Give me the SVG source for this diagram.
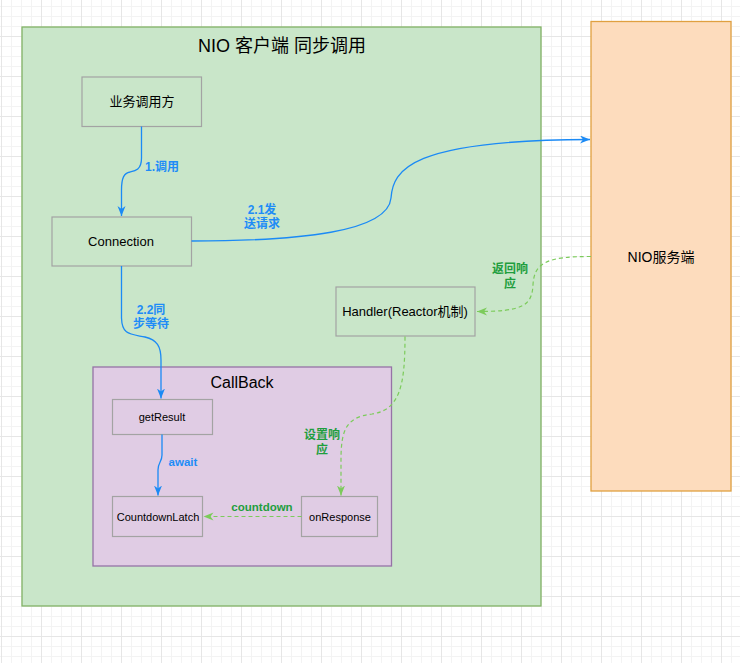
<svg xmlns="http://www.w3.org/2000/svg" width="740" height="663" viewBox="0 0 740 663">
<defs>
<pattern id="gMinor" x="1" y="6" width="10" height="10" patternUnits="userSpaceOnUse"><rect x="0" y="0" width="1" height="10" fill="#f3f3f3"/><rect x="0" y="0" width="10" height="1" fill="#f3f3f3"/></pattern>
<pattern id="gMajor" x="1" y="-4" width="40" height="40" patternUnits="userSpaceOnUse"><rect x="0" y="0" width="1" height="40" fill="#e6e6e6"/><rect x="0" y="0" width="40" height="1" fill="#e6e6e6"/></pattern>
<marker id="aBlue" markerUnits="userSpaceOnUse" markerWidth="12" markerHeight="10" refX="10" refY="4" orient="auto" viewBox="0 0 12 10"><path d="M0,0 L10,4 L0,8 L3,4 Z" fill="#1b8af5" stroke="none"/></marker>
<marker id="aGreen" markerUnits="userSpaceOnUse" markerWidth="12" markerHeight="10" refX="10" refY="4" orient="auto" viewBox="0 0 12 10"><path d="M0,0 L10,4 L0,8 L3,4 Z" fill="#7ccb5b" stroke="none"/></marker>
</defs>
<style>
text{font-family:"Liberation Sans","Noto Sans CJK SC",sans-serif;text-anchor:middle;fill:#000}
.node{fill:none;stroke:#a3a3a3;stroke-width:1.2}
.n13{font-size:13px}
.n11{font-size:11px}
.blue{fill:none;stroke:#1b8af5;stroke-width:1.3}
.green{fill:none;stroke:#7ccb5b;stroke-width:1.2;stroke-dasharray:4 3}
.lb{font-size:12px;fill:#1e8cf7;font-weight:bold}
.lg{font-size:12px;fill:#1f9e3e;font-weight:bold}
.sm{font-size:11.5px}
</style>
<rect x="0" y="0" width="740" height="663" fill="#ffffff"/>
<rect x="0" y="0" width="740" height="663" fill="url(#gMinor)"/>
<rect x="0" y="0" width="740" height="663" fill="url(#gMajor)"/>

<g id="client">
<rect x="22" y="27" width="519" height="579" fill="#c9e6c9" stroke="#82b366" stroke-width="1.3"/>
<text x="282" y="52" style="font-size:18px">NIO 客户端 同步调用</text>
</g>
<g id="server">
<rect x="591" y="21.5" width="140" height="469.5" fill="#fddcbd" stroke="#e0a040" stroke-width="1.3"/>
<text x="661" y="262" style="font-size:14px">NIO服务端</text>
</g>
<g id="caller">
<rect class="node" x="82" y="77" width="119.5" height="49.5"/>
<text class="n13" x="142" y="106">业务调用方</text>
</g>
<g id="connection">
<rect class="node" x="52" y="217" width="139.5" height="49"/>
<text class="n13" x="121" y="246">Connection</text>
</g>
<g id="handler">
<rect class="node" x="336" y="287" width="139" height="49"/>
<text class="n13" x="405" y="316">Handler(Reactor机制)</text>
</g>
<g id="callback">
<rect x="93" y="367" width="298.5" height="199" fill="#e0cce4" stroke="#9673a6" stroke-width="1.3"/>
<text x="242" y="388" style="font-size:16px">CallBack</text>
</g>
<g id="getResult">
<rect class="node" x="112.5" y="399.5" width="100" height="35"/>
<text class="n11" x="162" y="421">getResult</text>
</g>
<g id="latch">
<rect class="node" x="112.5" y="496.5" width="90" height="40"/>
<text class="n11" x="158" y="521">CountdownLatch</text>
</g>
<g id="onResponse">
<rect class="node" x="301.5" y="496.5" width="76" height="40"/>
<text class="n11" x="340" y="521">onResponse</text>
</g>

<g id="connectors">
<path class="blue" d="M141.5,126.5 L141.5,158 C141.5,170 135,171 130,172 C124,173 121.5,178 121.5,190 L121.5,216" marker-end="url(#aBlue)"/>
<text class="lb" x="162" y="171">1.调用</text>

<path class="blue" d="M191.5,241 C300,241 388,232 391,198 C393,170 410,140 590,139.5" marker-end="url(#aBlue)"/>
<text class="lb" x="262" y="214">2.1发</text>
<text class="lb" x="262" y="228">送请求</text>

<path class="blue" d="M121.5,266 L121.5,318 C122,335 130,334 145,337 C157,340 161,346 161,360 L161,398.5" marker-end="url(#aBlue)"/>
<text class="lb" x="151" y="314">2.2同</text>
<text class="lb" x="151" y="328">步等待</text>

<path class="blue" d="M162,434.5 L162,455 C162,462 158,462 158,470 L158,495.5" marker-end="url(#aBlue)"/>
<text class="lb sm" x="183" y="466">await</text>

<path class="green" d="M591,256.5 C548,256.5 534,262 533,285 C532,306 522,311.5 477,311.5" marker-end="url(#aGreen)"/>
<text class="lg" x="510" y="273">返回响</text>
<text class="lg" x="510" y="288">应</text>

<path class="green" d="M405,336.5 C405,385 400,410 372,414 C346,417 341,430 341,460 L341,495.5" marker-end="url(#aGreen)"/>
<text class="lg" x="322" y="439">设置响</text>
<text class="lg" x="322" y="454">应</text>

<path class="green" d="M301.5,516.5 L203.5,516.5" marker-end="url(#aGreen)"/>
<text class="lg sm" x="262" y="511">countdown</text>
</g>
</svg>
